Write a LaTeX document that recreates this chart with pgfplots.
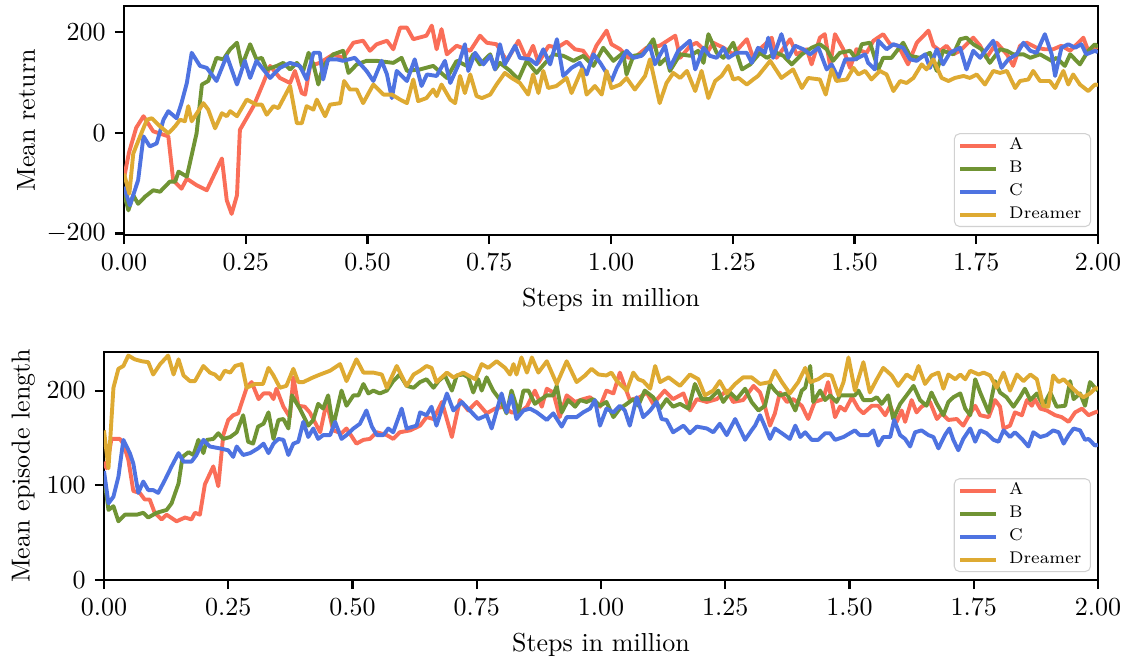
\documentclass[border=0pt]{standalone}
\usepackage{pgfplots}
\usepackage{pgfplotstable}
\pgfplotsset{compat=1.18}

\definecolor{colA}{RGB}{250,110,88}
\definecolor{colB}{RGB}{112,148,52}
\definecolor{colC}{RGB}{78,115,225}
\definecolor{colD}{RGB}{222,170,50}

% ---- top panel: mean return ----
\pgfplotstableread{
x y
0 -90
0.010 -40
0.025 10
0.040 33
0.060 3
0.091 -7
0.101 -94
0.118 -111
0.129 -91
0.149 -104
0.170 -114
0.201 -51
0.211 -134
0.221 -161
0.232 -124
0.238 6
0.266 53
0.286 99
0.300 133
0.320 109
0.341 99
0.351 123
0.365 79
0.372 76
0.382 133
0.402 139
0.430 156
0.450 149
0.471 179
0.491 183
0.505 163
0.519 176
0.540 183
0.553 166
0.567 209
0.581 209
0.594 186
0.621 193
0.632 213
0.642 166
0.652 206
0.663 156
0.683 173
0.711 163
0.731 193
0.745 179
0.765 176
0.786 143
0.810 183
0.827 146
0.840 173
0.851 139
0.872 173
0.889 169
0.909 181
0.926 166
0.943 163
0.957 143
0.970 173
0.991 203
1.001 176
1.019 166
1.036 149
1.053 153
1.073 169
1.100 173
1.132 193
1.142 149
1.163 173
1.176 179
1.197 159
1.210 179
1.231 169
1.251 156
1.279 186
1.292 149
1.309 169
1.330 189
1.340 149
1.368 186
1.381 156
1.402 166
1.412 136
1.429 189
1.439 196
1.450 133
1.460 196
1.477 166
1.491 129
1.504 166
1.525 159
1.539 183
1.559 196
1.573 176
1.590 173
1.610 136
1.628 179
1.652 203
1.662 173
1.676 163
1.689 173
1.703 156
1.717 163
1.744 189
1.758 173
1.771 149
1.792 179
1.813 156
1.826 133
1.840 173
1.854 179
1.874 169
1.891 166
1.908 166
1.925 173
1.943 163
1.970 189
1.980 163
1.994 169
2.000 170
}\retA

\pgfplotstableread{
x y
0 -120
0.009 -154
0.019 -124
0.029 -141
0.043 -127
0.060 -114
0.074 -117
0.094 -97
0.105 -97
0.112 -77
0.129 -87
0.149 -1
0.160 96
0.173 103
0.190 149
0.204 146
0.218 166
0.232 179
0.242 133
0.259 176
0.272 146
0.283 149
0.293 126
0.314 133
0.327 139
0.341 126
0.355 139
0.368 123
0.379 159
0.389 136
0.399 96
0.409 133
0.430 156
0.450 163
0.461 119
0.478 136
0.498 143
0.519 143
0.553 139
0.570 149
0.581 123
0.608 126
0.635 133
0.663 109
0.683 143
0.704 133
0.717 156
0.731 136
0.752 156
0.762 126
0.772 139
0.793 123
0.810 106
0.827 143
0.847 119
0.865 139
0.882 156
0.902 153
0.923 143
0.943 153
0.964 133
0.984 169
1.005 143
1.025 159
1.032 116
1.046 153
1.066 156
1.087 186
1.100 136
1.114 149
1.121 123
1.142 156
1.163 153
1.179 163
1.190 139
1.200 196
1.217 159
1.231 149
1.251 179
1.269 126
1.286 136
1.306 159
1.320 149
1.340 159
1.354 153
1.371 136
1.392 156
1.412 169
1.429 176
1.443 166
1.456 143
1.470 159
1.491 163
1.504 146
1.515 176
1.532 179
1.549 126
1.559 149
1.576 149
1.600 179
1.614 153
1.634 149
1.655 159
1.669 123
1.682 163
1.703 156
1.717 186
1.730 189
1.744 176
1.761 166
1.778 139
1.799 166
1.813 163
1.826 156
1.847 156
1.861 149
1.881 156
1.905 143
1.915 149
1.932 133
1.943 156
1.963 136
1.980 163
1.994 176
2.000 170
}\retB

\pgfplotstableread{
x y
0 -107
0.012 -144
0.029 -94
0.040 -7
0.053 -27
0.067 -21
0.081 26
0.091 43
0.108 29
0.118 59
0.129 99
0.139 159
0.156 133
0.170 129
0.190 103
0.211 153
0.232 96
0.248 143
0.259 109
0.272 143
0.300 109
0.320 129
0.341 139
0.361 133
0.375 106
0.389 159
0.402 159
0.409 106
0.419 146
0.437 146
0.450 143
0.474 149
0.498 123
0.512 103
0.529 143
0.540 116
0.550 69
0.560 123
0.581 103
0.597 146
0.611 93
0.622 116
0.642 113
0.659 143
0.670 99
0.687 136
0.700 176
0.707 123
0.721 159
0.738 136
0.752 153
0.762 126
0.772 176
0.782 136
0.803 173
0.813 149
0.834 146
0.847 136
0.861 166
0.875 136
0.889 186
0.902 113
0.919 129
0.936 139
0.950 116
0.964 156
0.978 139
1.001 103
1.012 129
1.032 163
1.046 149
1.063 153
1.080 173
1.090 136
1.111 173
1.121 129
1.138 163
1.162 183
1.173 126
1.190 169
1.203 153
1.217 149
1.231 169
1.241 149
1.258 159
1.279 159
1.289 139
1.302 169
1.316 159
1.323 189
1.333 149
1.350 196
1.364 149
1.378 173
1.395 166
1.409 156
1.426 169
1.443 126
1.453 136
1.467 109
1.481 146
1.501 146
1.522 156
1.528 139
1.542 126
1.549 183
1.566 166
1.580 176
1.600 169
1.614 146
1.628 143
1.645 156
1.655 129
1.669 166
1.682 136
1.696 159
1.717 169
1.730 126
1.744 163
1.758 149
1.771 166
1.785 183
1.802 129
1.816 146
1.833 156
1.847 179
1.861 163
1.874 159
1.891 196
1.905 156
1.912 113
1.925 169
1.939 176
1.953 169
1.966 176
1.976 156
1.994 163
2.000 160
}\retC

\pgfplotstableread{
x y
0 -81
0.011 -121
0.019 -41
0.033 -7
0.047 26
0.057 29
0.074 13
0.091 -1
0.105 13
0.115 26
0.125 23
0.132 53
0.139 23
0.163 59
0.173 46
0.187 9
0.201 39
0.211 33
0.218 43
0.232 33
0.252 66
0.272 56
0.283 56
0.293 36
0.307 53
0.317 49
0.341 93
0.355 19
0.365 19
0.375 53
0.389 46
0.396 66
0.413 33
0.423 56
0.444 59
0.452 103
0.464 86
0.478 86
0.491 59
0.512 96
0.533 76
0.550 76
0.567 66
0.581 59
0.594 106
0.604 63
0.621 69
0.635 86
0.642 73
0.652 96
0.670 66
0.680 59
0.690 113
0.700 79
0.711 116
0.724 73
0.735 69
0.752 76
0.765 96
0.782 119
0.796 109
0.813 99
0.830 76
0.840 116
0.851 79
0.861 123
0.871 89
0.888 93
0.909 109
0.919 79
0.940 126
0.950 76
0.967 93
0.981 76
0.991 123
1.001 89
1.019 96
1.032 109
1.049 86
1.070 113
1.080 146
1.100 59
1.114 99
1.128 119
1.142 109
1.156 123
1.173 83
1.186 123
1.200 69
1.214 103
1.227 113
1.241 133
1.251 106
1.262 109
1.279 96
1.292 106
1.302 113
1.327 143
1.350 109
1.374 126
1.392 89
1.405 109
1.429 106
1.441 76
1.453 126
1.463 103
1.484 106
1.498 129
1.508 116
1.522 123
1.535 106
1.552 123
1.566 116
1.580 83
1.594 103
1.607 99
1.621 109
1.638 136
1.648 126
1.662 146
1.679 109
1.693 103
1.706 109
1.724 113
1.737 109
1.751 116
1.768 96
1.785 123
1.799 119
1.813 123
1.830 89
1.840 103
1.857 106
1.867 123
1.881 103
1.901 103
1.912 89
1.929 123
1.939 96
1.949 116
1.963 96
1.980 83
1.994 96
2.000 95
}\retD

% ---- bottom panel: mean episode length ----
\pgfplotstableread{
x y
0 125
0.005 118
0.015 149
0.032 149
0.039 144
0.049 127
0.059 94
0.072 92
0.082 85
0.092 85
0.102 71
0.116 64
0.126 69
0.146 62
0.163 66
0.176 64
0.183 71
0.193 69
0.203 101
0.220 120
0.230 99
0.240 153
0.250 169
0.260 174
0.270 176
0.287 203
0.297 209
0.311 191
0.321 197
0.334 197
0.341 191
0.347 202
0.361 183
0.374 172
0.381 214
0.391 184
0.404 183
0.414 177
0.435 156
0.448 188
0.461 158
0.478 155
0.488 160
0.508 144
0.522 148
0.535 149
0.549 156
0.569 153
0.582 149
0.595 156
0.616 158
0.636 163
0.649 172
0.663 170
0.680 188
0.700 151
0.716 190
0.733 179
0.750 188
0.770 176
0.787 181
0.804 183
0.820 177
0.837 177
0.851 183
0.867 200
0.881 183
0.891 202
0.904 198
0.917 172
0.931 195
0.948 188
0.964 191
0.978 193
0.998 183
1.011 200
1.025 197
1.038 219
1.058 190
1.078 193
1.092 198
1.105 186
1.128 200
1.145 191
1.166 197
1.179 179
1.193 191
1.213 188
1.233 191
1.253 200
1.266 188
1.286 190
1.307 205
1.320 198
1.330 183
1.340 163
1.350 176
1.360 198
1.374 188
1.387 191
1.404 184
1.417 170
1.430 188
1.447 191
1.457 209
1.471 172
1.481 183
1.491 179
1.505 193
1.518 181
1.528 176
1.545 184
1.558 184
1.572 174
1.582 184
1.595 167
1.605 179
1.612 167
1.625 190
1.635 177
1.645 183
1.662 188
1.676 170
1.686 176
1.699 169
1.716 170
1.729 163
1.743 176
1.753 184
1.763 174
1.780 172
1.793 190
1.803 183
1.810 160
1.823 163
1.833 177
1.847 174
1.857 190
1.867 184
1.873 191
1.884 181
1.897 179
1.914 174
1.927 172
1.941 167
1.954 177
1.968 181
1.981 174
1.994 177
2.000 178
}\lenA

\pgfplotstableread{
x y
0 110
0.009 74
0.019 78
0.029 62
0.042 69
0.066 69
0.079 71
0.089 66
0.106 71
0.126 74
0.136 81
0.150 102
0.158 130
0.170 135
0.180 132
0.190 148
0.200 134
0.207 148
0.220 149
0.230 155
0.240 149
0.254 151
0.267 156
0.280 174
0.290 146
0.300 144
0.310 162
0.321 165
0.331 177
0.341 149
0.351 169
0.361 170
0.371 160
0.378 195
0.394 181
0.411 163
0.421 169
0.431 186
0.441 181
0.451 195
0.461 162
0.478 200
0.488 184
0.502 195
0.512 195
0.522 207
0.532 197
0.542 200
0.555 197
0.569 200
0.582 210
0.595 217
0.609 205
0.623 203
0.636 209
0.649 212
0.663 203
0.673 210
0.686 216
0.700 200
0.710 216
0.723 217
0.733 214
0.743 198
0.753 212
0.760 200
0.770 214
0.783 200
0.800 188
0.810 176
0.820 200
0.834 177
0.844 200
0.854 200
0.867 186
0.877 190
0.891 195
0.904 195
0.911 205
0.921 177
0.934 190
0.948 183
0.958 190
0.971 188
0.984 191
0.998 184
1.011 188
1.025 172
1.038 181
1.052 186
1.065 191
1.075 184
1.088 200
1.105 193
1.119 181
1.132 191
1.145 183
1.159 186
1.176 181
1.189 207
1.203 191
1.219 191
1.236 200
1.246 188
1.260 198
1.273 191
1.290 202
1.303 188
1.317 179
1.330 184
1.340 207
1.350 200
1.360 195
1.374 197
1.391 179
1.404 200
1.411 203
1.421 226
1.427 188
1.441 200
1.451 190
1.461 195
1.474 188
1.481 195
1.494 195
1.511 195
1.518 200
1.528 190
1.545 190
1.555 193
1.565 186
1.578 195
1.588 170
1.602 186
1.615 195
1.629 205
1.642 190
1.655 184
1.665 198
1.676 186
1.689 174
1.699 188
1.709 193
1.723 197
1.733 181
1.743 174
1.753 212
1.763 198
1.780 177
1.793 210
1.803 198
1.816 193
1.830 183
1.843 193
1.853 202
1.864 190
1.877 197
1.890 184
1.904 198
1.917 183
1.934 184
1.944 210
1.951 191
1.964 197
1.974 184
1.984 209
1.994 203
2.000 200
}\lenB

\pgfplotstableread{
x y
0 115
0.009 81
0.019 88
0.029 109
0.039 148
0.052 134
0.059 123
0.069 92
0.079 104
0.089 95
0.099 95
0.109 92
0.123 106
0.136 120
0.150 134
0.160 125
0.176 125
0.186 132
0.200 148
0.213 141
0.233 139
0.250 137
0.260 130
0.267 141
0.280 132
0.294 134
0.310 139
0.321 144
0.331 134
0.341 144
0.351 149
0.361 148
0.371 132
0.381 144
0.391 146
0.401 167
0.411 151
0.421 160
0.431 149
0.441 153
0.455 153
0.465 167
0.478 149
0.488 153
0.502 160
0.515 165
0.528 179
0.539 162
0.549 153
0.562 153
0.572 160
0.582 156
0.599 181
0.609 160
0.629 163
0.636 177
0.649 174
0.659 183
0.669 163
0.690 197
0.703 179
0.720 188
0.736 179
0.753 170
0.770 174
0.780 160
0.800 197
0.810 177
0.820 195
0.830 170
0.844 179
0.857 181
0.871 177
0.891 169
0.904 176
0.921 162
0.931 172
0.951 172
0.964 177
0.978 181
0.988 190
0.998 163
1.011 181
1.025 177
1.038 184
1.048 179
1.058 163
1.072 193
1.085 172
1.099 179
1.112 188
1.122 170
1.132 169
1.145 156
1.166 163
1.179 155
1.193 162
1.213 160
1.226 156
1.239 165
1.253 153
1.270 170
1.290 148
1.303 158
1.310 163
1.320 174
1.330 162
1.340 149
1.350 160
1.364 155
1.380 149
1.391 163
1.401 151
1.411 156
1.424 148
1.437 148
1.451 155
1.461 155
1.471 148
1.488 151
1.501 155
1.511 158
1.521 153
1.538 153
1.548 158
1.558 142
1.568 151
1.582 151
1.590 169
1.602 153
1.612 149
1.622 141
1.632 156
1.645 158
1.659 153
1.669 151
1.679 139
1.692 153
1.701 160
1.709 148
1.719 137
1.729 149
1.743 160
1.753 146
1.763 158
1.776 155
1.790 148
1.800 146
1.810 158
1.823 151
1.833 156
1.847 149
1.860 141
1.870 156
1.884 151
1.897 153
1.910 158
1.921 156
1.931 144
1.941 153
1.951 160
1.964 158
1.974 148
1.981 149
1.994 142
2.000 143
}\lenC

\pgfplotstableread{
x y
0 158
0.009 118
0.019 203
0.029 223
0.039 226
0.049 237
0.062 233
0.076 231
0.089 230
0.099 217
0.113 228
0.129 237
0.140 217
0.150 233
0.160 216
0.173 210
0.183 210
0.200 226
0.213 219
0.223 217
0.233 212
0.243 221
0.254 219
0.264 226
0.277 228
0.287 203
0.304 207
0.320 207
0.331 224
0.341 216
0.354 203
0.367 205
0.381 223
0.391 209
0.401 209
0.421 214
0.435 217
0.455 221
0.475 228
0.488 210
0.508 233
0.522 219
0.542 219
0.559 217
0.569 203
0.589 226
0.609 205
0.623 217
0.636 221
0.649 226
0.659 224
0.669 209
0.690 219
0.703 214
0.723 219
0.747 212
0.760 228
0.773 224
0.790 231
0.807 224
0.817 217
0.824 228
0.830 217
0.840 235
0.851 219
0.861 235
0.874 219
0.891 231
0.911 207
0.931 231
0.951 209
0.968 216
0.981 223
0.995 217
1.011 216
1.021 219
1.032 210
1.052 200
1.065 219
1.075 212
1.085 210
1.099 202
1.109 226
1.119 209
1.136 214
1.159 205
1.179 217
1.196 212
1.209 195
1.226 200
1.239 210
1.253 197
1.270 207
1.286 214
1.303 214
1.320 207
1.340 209
1.350 221
1.364 209
1.380 197
1.397 209
1.411 224
1.421 209
1.437 212
1.451 217
1.464 216
1.478 195
1.488 209
1.498 235
1.511 200
1.528 230
1.541 198
1.555 212
1.568 224
1.585 216
1.598 205
1.615 217
1.629 212
1.639 226
1.652 207
1.665 216
1.679 219
1.689 202
1.699 217
1.713 212
1.723 217
1.733 212
1.743 221
1.760 217
1.770 219
1.783 216
1.796 203
1.810 219
1.823 200
1.837 217
1.850 210
1.864 217
1.877 212
1.890 184
1.900 183
1.910 216
1.921 209
1.931 212
1.944 205
1.958 198
1.971 193
1.984 197
1.994 202
2.000 203
}\lenD

\pgfplotsset{
  panel/.style={
    scale only axis,
    xmin=0, xmax=2,
    xtick={0,0.25,...,2},
    xticklabel style={/pgf/number format/.cd, fixed, fixed zerofill, precision=2},
    xtick pos=left, ytick pos=left,
    tick align=outside,
    major tick length=3.5pt,
    tick style={black, line width=0.8pt},
    axis line style={line width=0.8pt},
    xlabel={Steps in million},
    legend cell align=left,
    legend style={
      at={(axis description cs:0.993,0.035)}, anchor=south east,
      font=\fontsize{6.5}{7.5}\selectfont, draw=black!18, rounded corners=2pt,
      fill=white, fill opacity=0.8, text opacity=1, draw opacity=1,
      inner xsep=1.5pt, inner ysep=0.4pt, row sep=0.4pt,
      nodes={inner xsep=2pt, inner ysep=1.2pt},
    },
    legend image code/.code={\draw[#1] (0pt,0pt) -- (13.8pt,0pt); \path (16.1pt,0pt);},
    every axis plot/.append style={line width=1.5pt, line join=round},
  },
}

\begin{document}
\begin{tikzpicture}
\path[use as bounding box] (-40pt,-31.2pt) rectangle (395.4pt,223.1pt);

\begin{axis}[panel,
  at={(7.7pt,132.7pt)}, anchor=south west,
  width=374.6pt, height=88.1pt,
  ymin=-203, ymax=252,
  ytick={-200,0,200},
  ylabel={Mean return},
  ylabel style={at={(axis description cs:-0.1006,0.5)}, anchor=center},
]
\addplot[colA] table {\retA};
\addplot[colB] table {\retB};
\addplot[colC] table {\retC};
\addplot[colD] table {\retD};
\legend{A,B,C,Dreamer}
\end{axis}

\begin{axis}[panel,
  at={(0pt,0pt)}, anchor=south west,
  width=382.3pt, height=87.8pt,
  ymin=0, ymax=241,
  ytick={0,100,200},
  ylabel={Mean episode length},
  ylabel style={at={(axis description cs:-0.0811,0.5)}, anchor=center},
]
\addplot[colA] table {\lenA};
\addplot[colB] table {\lenB};
\addplot[colC] table {\lenC};
\addplot[colD] table {\lenD};
\legend{A,B,C,Dreamer}
\end{axis}
\end{tikzpicture}
\end{document}
